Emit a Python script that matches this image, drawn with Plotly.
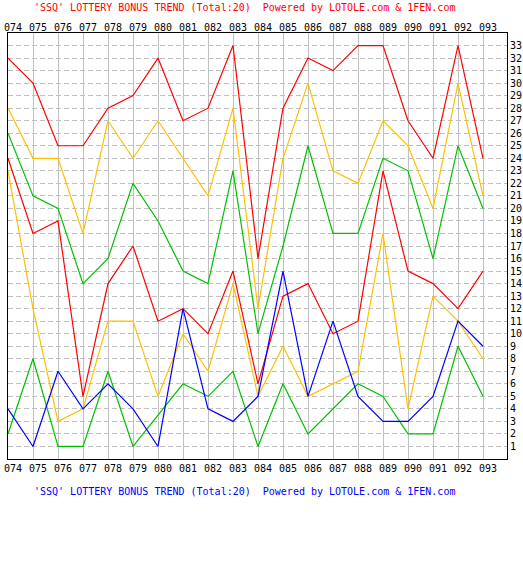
import plotly.graph_objects as go

periods = ["074", "075", "076", "077", "078", "079", "080", "081", "082", "083",
           "084", "085", "086", "087", "088", "089", "090", "091", "092", "093"]

red_high = [32, 30, 25, 25, 28, 29, 32, 27, 28, 33, 16, 28, 32, 31, 33, 33, 27, 24, 33, 24]
orange_high = [28, 24, 24, 18, 27, 24, 27, 24, 21, 28, 12, 24, 30, 23, 22, 27, 25, 20, 30, 21]
green_high = [26, 21, 20, 14, 16, 22, 19, 15, 14, 23, 10, 17, 25, 18, 18, 24, 23, 16, 25, 20]
red_low = [24, 18, 19, 5, 14, 17, 11, 12, 10, 15, 6, 13, 14, 10, 11, 23, 15, 14, 12, 15]
orange_low = [23, 12, 3, 4, 11, 11, 5, 10, 7, 14, 5, 9, 5, 6, 7, 18, 4, 13, 11, 8]
green_low = [2, 8, 1, 1, 7, 1, 3.5, 6, 5, 7, 1, 6, 2, 4, 6, 5, 2, 2, 9, 5]
blue_ball = [4, 1, 7, 4, 6, 4, 1, 12, 4, 3, 5, 15, 5, 11, 5, 3, 3, 5, 11, 9]

y_ticks = list(range(1, 34))
title_text = "'SSQ' LOTTERY BONUS TREND (Total:20)  Powered by LOTOLE.com & 1FEN.com"

RED = "#ff0000"
ORANGE = "#ffc000"
GREEN = "#00c000"
BLUE = "#0000ff"

series = [
    (red_high, RED), (orange_high, ORANGE), (green_high, GREEN),
    (red_low, RED), (orange_low, ORANGE), (green_low, GREEN),
    (blue_ball, BLUE),
]

xs = list(range(len(periods)))
fig = go.Figure()
for vals, col in series:
    fig.add_trace(go.Scatter(x=xs, y=vals, mode="lines",
                             line=dict(color=col, width=1.2),
                             hoverinfo="skip"))
# invisible trace for top axis
fig.add_trace(go.Scatter(x=xs, y=[None] * len(xs), xaxis="x2", mode="lines",
                         showlegend=False, hoverinfo="skip"))

font = dict(family="DejaVu Sans Mono", size=10, color="black")
xrange_ = [0, 19.96]
common_x = dict(range=xrange_, tickmode="array", tickvals=xs, ticktext=periods,
                ticks="", ticklabelshift=5, tickfont=font, zeroline=False,
                fixedrange=True, automargin=False)

fig.update_layout(
    template="none",
    width=523, height=565,
    margin=dict(l=8, r=16, t=33, b=106, autoexpand=False),
    paper_bgcolor="white", plot_bgcolor="white",
    showlegend=False, font=font,
    xaxis=dict(**common_x, showgrid=True, gridcolor="#c0c0c0", gridwidth=1,
               showline=True, linecolor="black", linewidth=1, mirror=True),
    xaxis2=dict(**common_x, overlaying="x", side="top", showgrid=False,
                showline=False, anchor="free", position=1),
    yaxis=dict(range=[0, 34], side="right", tickmode="array", tickvals=y_ticks,
               ticktext=[str(v) for v in y_ticks], ticks="", tickfont=font,
               showgrid=True, gridcolor="#c0c0c0", gridwidth=1,
               griddash="5px,3px", zeroline=False, automargin=False,
               showline=True, linecolor="black", linewidth=1, mirror=True,
               fixedrange=True),
    annotations=[
        dict(text=title_text, xref="paper", yref="paper", x=0.473, y=1 + 26 / 426,
             xanchor="center", yanchor="middle", showarrow=False,
             font=dict(family="DejaVu Sans Mono", size=10, color=RED)),
        dict(text=title_text, xref="paper", yref="paper", x=0.473, y=-33 / 426,
             xanchor="center", yanchor="middle", showarrow=False,
             font=dict(family="DejaVu Sans Mono", size=10, color=BLUE)),
    ],
)

fig.write_html("out.html",
               config={"displayModeBar": False, "staticPlot": True},
               post_script="document.body.style.margin='0';"
                           "document.body.style.padding='0';"
                           "document.body.style.overflow='hidden';")
